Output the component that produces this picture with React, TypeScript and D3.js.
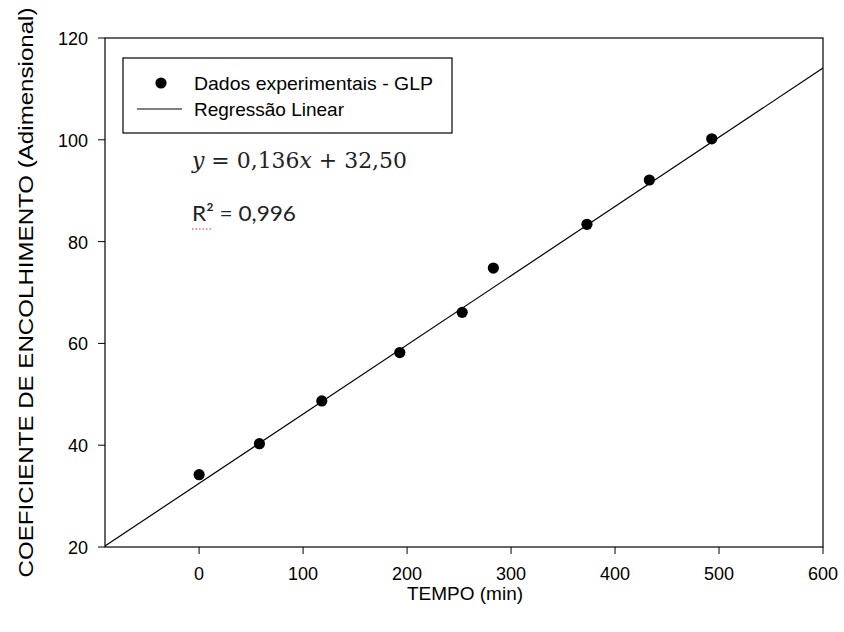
import React from "react";
import * as d3 from "d3";

const tempo = [0, 58, 118, 193, 253, 283, 373, 433, 493];
const coef = [34.2, 40.3, 48.7, 58.2, 66.1, 74.8, 83.4, 92.1, 100.2];
const xTicks = [0, 100, 200, 300, 400, 500, 600];
const yTicks = [20, 40, 60, 80, 100, 120];
const slope = 0.136;
const intercept = 32.5;

const W = 844, H = 632;
const L = 105, R = 823, T = 38, B = 547;

export default function App() {
  const x = d3.scaleLinear().domain([-90.5, 600]).range([L, R]);
  const y = d3.scaleLinear().domain([20, 120]).range([B, T]);
  const x0 = -90.5, x1 = 600;
  const line = d3.line<number>().x((d) => x(d)).y((d) => y(slope * d + intercept));
  const font = "'Liberation Sans', Arial, sans-serif";
  return (
    <svg width={W} height={H} style={{ position: "absolute", left: 0, top: 0, background: "#fff" }}>
      <rect x={0} y={0} width={W} height={H} fill="#fff" />
      <defs>
        <clipPath id="plot">
          <rect x={L} y={T} width={R - L} height={B - T} />
        </clipPath>
      </defs>
      <path d={line([x0, x1]) || ""} stroke="#000" strokeWidth={1.2} fill="none" clipPath="url(#plot)" />
      {tempo.map((t, i) => (
        <circle key={i} cx={x(t)} cy={y(coef[i])} r={5.6} fill="#000" />
      ))}
      <rect x={L} y={T} width={R - L} height={B - T} fill="none" stroke="#000" strokeWidth={1.2} />
      {xTicks.map((t) => (
        <g key={t}>
          <line x1={x(t)} x2={x(t)} y1={B} y2={B + 7} stroke="#000" strokeWidth={1} />
          <text x={x(t)} y={B + 33} textAnchor="middle" fontFamily={font} fontSize={18}>{t}</text>
        </g>
      ))}
      {yTicks.map((t) => (
        <g key={t}>
          <line x1={L - 7} x2={L} y1={y(t)} y2={y(t)} stroke="#000" strokeWidth={1} />
          <text x={L - 17} y={y(t) + 7} textAnchor="end" fontFamily={font} fontSize={18}>{t}</text>
        </g>
      ))}
      <text x={(L + R) / 2 + 1} y={600} textAnchor="middle" fontFamily={font} fontSize={19}>TEMPO (min)</text>
      <text transform={`translate(33, ${(T + B) / 2}) rotate(-90)`} textAnchor="middle" fontFamily={font} fontSize={19.5}
        textLength={570} lengthAdjust="spacingAndGlyphs">
        COEFICIENTE DE ENCOLHIMENTO (Adimensional)
      </text>
      <rect x={123} y={58} width={329} height={75} fill="#fff" stroke="#000" strokeWidth={1.2} />
      <circle cx={161} cy={83} r={5.6} fill="#000" />
      <text x={194} y={90} fontFamily={font} fontSize={19} textLength={239} lengthAdjust="spacingAndGlyphs">Dados experimentais - GLP</text>
      <line x1={137} x2={182} y1={109} y2={109} stroke="#000" strokeWidth={1.2} />
      <text x={194} y={116} fontFamily={font} fontSize={19}>Regressão Linear</text>
      <text x={192} y={168} fontFamily="'DejaVu Serif', 'Liberation Serif', serif" fontSize={22} fill="#222"
        textLength={215} lengthAdjust="spacingAndGlyphs">
        <tspan fontStyle="italic">y</tspan>
        <tspan> = 0,136</tspan>
        <tspan fontStyle="italic">x</tspan>
        <tspan> + 32,50</tspan>
      </text>
      <text x={192} y={221} fontFamily="Lato, 'Open Sans', sans-serif" fontSize={22} fill="#222"
        textLength={104} lengthAdjust="spacingAndGlyphs">
        R² = 0,996
      </text>
      <line x1={192} x2={212} y1={229} y2={229} stroke="#e02020" strokeWidth={1} strokeDasharray="1.5,2" />
    </svg>
  );
}
